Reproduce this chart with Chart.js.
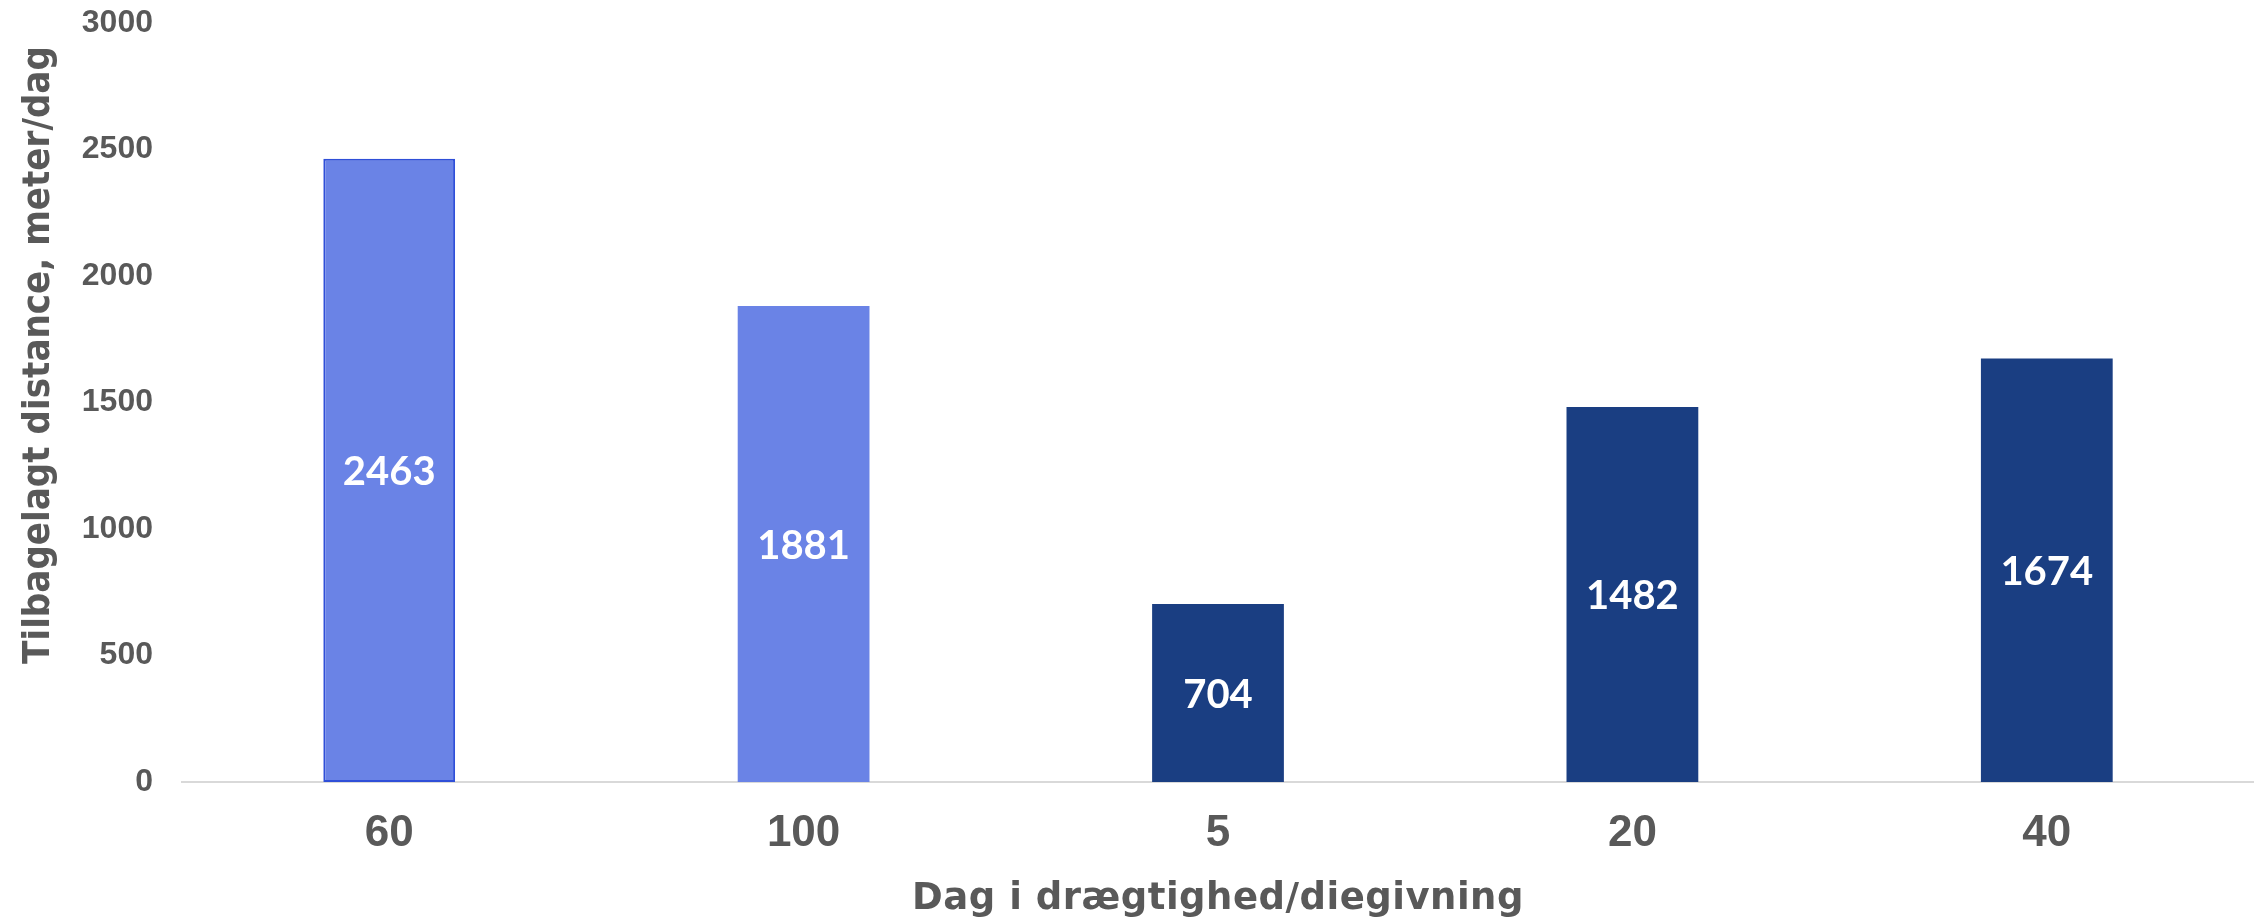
<!DOCTYPE html>
<html lang="da">
<head>
<meta charset="utf-8">
<title>Tilbagelagt distance</title>
<script src="https://cdn.jsdelivr.net/npm/chart.js@4/dist/chart.umd.min.js"></script>
<style>
  html, body { margin: 0; padding: 0; background: #ffffff; }
  #wrap { width: 2254px; height: 919px; position: relative; }
</style>
</head>
<body>
<div id="wrap"><canvas id="chart"></canvas></div>
<script>
// Days in pregnancy / lactation on the x axis
const categories = ['60', '100', '5', '20', '40'];
// Distance walked per day (meter/dag)
const distance = [2463, 1881, 704, 1482, 1674];
// Which phase each day belongs to
const phase = ['drægtighed', 'drægtighed', 'diegivning', 'diegivning', 'diegivning'];
// Value axis ticks
const yTicks = [0, 500, 1000, 1500, 2000, 2500, 3000];

const xTitle = 'Dag i drægtighed/diegivning';
const yTitle = 'Tilbagelagt distance, meter/dag';

const phaseColor = { 'drægtighed': '#6A83E6', 'diegivning': '#1A3E82' };
const textGrey = '#595959';

// White value labels centred in every bar
const barLabels = {
  id: 'barLabels',
  afterDatasetsDraw(chart) {
    const ctx = chart.ctx;
    const meta = chart.getDatasetMeta(0);
    ctx.save();
    ctx.fillStyle = '#ffffff';
    ctx.font = 'bold 40px Lato';
    ctx.textAlign = 'center';
    ctx.textBaseline = 'middle';
    meta.data.forEach((bar, i) => {
      const v = chart.data.datasets[0].data[i];
      ctx.fillText(String(v), bar.x, (bar.y + bar.base) / 2 + 2);
    });
    ctx.restore();
  }
};

// Axis titles
const axisTitles = {
  id: 'axisTitles',
  afterDraw(chart) {
    const ctx = chart.ctx;
    const area = chart.chartArea;
    ctx.save();
    ctx.fillStyle = textGrey;
    ctx.textAlign = 'center';
    ctx.textBaseline = 'alphabetic';
    ctx.font = 'bold 37px "DejaVu Sans"';
    ctx.letterSpacing = '0.5px';
    ctx.fillText(xTitle, (area.left + area.right) / 2, 909);
    ctx.letterSpacing = '0px';
    ctx.translate(49, 355);
    ctx.rotate(-Math.PI / 2);
    ctx.font = 'bold 38px "DejaVu Sans Condensed", "DejaVu Sans"';
    ctx.fillText(yTitle, 0, 0);
    ctx.restore();
  }
};

new Chart(document.getElementById('chart'), {
  type: 'bar',
  data: {
    labels: categories,
    datasets: [{
      data: distance,
      backgroundColor: phase.map(p => phaseColor[p]),
      borderColor: '#2F4FD8',
      borderWidth: ctx => (ctx.dataIndex === 0 ? 2 : 0),
      borderSkipped: false,
      categoryPercentage: 1,
      barPercentage: 0.318
    }]
  },
  options: {
    responsive: true,
    maintainAspectRatio: false,
    animation: false,
    layout: { padding: { top: 0, right: 0, bottom: 0, left: 0 } },
    plugins: {
      legend: { display: false },
      tooltip: { enabled: false }
    },
    scales: {
      x: {
        grid: { display: false, drawTicks: false },
        border: { display: true, color: '#D9D9D9', width: 2 },
        ticks: {
          color: textGrey,
          padding: 25,
          font: { family: '"Liberation Sans", Arial, sans-serif', size: 44, weight: 'bold' }
        },
        afterFit(scale) { scale.height = 137; }
      },
      y: {
        min: yTicks[0],
        max: yTicks[yTicks.length - 1],
        afterBuildTicks(scale) { scale.ticks = yTicks.map(v => ({ value: v })); },
        grid: { display: false, drawTicks: false },
        border: { display: false },
        ticks: {
          color: textGrey,
          padding: 29,
          callback: v => String(v),
          font: { family: '"Liberation Sans", Arial, sans-serif', size: 32, weight: 'bold' }
        },
        afterFit(scale) {
          scale.width = 182;
          scale.paddingTop = 23;
        }
      }
    }
  },
  plugins: [barLabels, axisTitles]
});
</script>
</body>
</html>
